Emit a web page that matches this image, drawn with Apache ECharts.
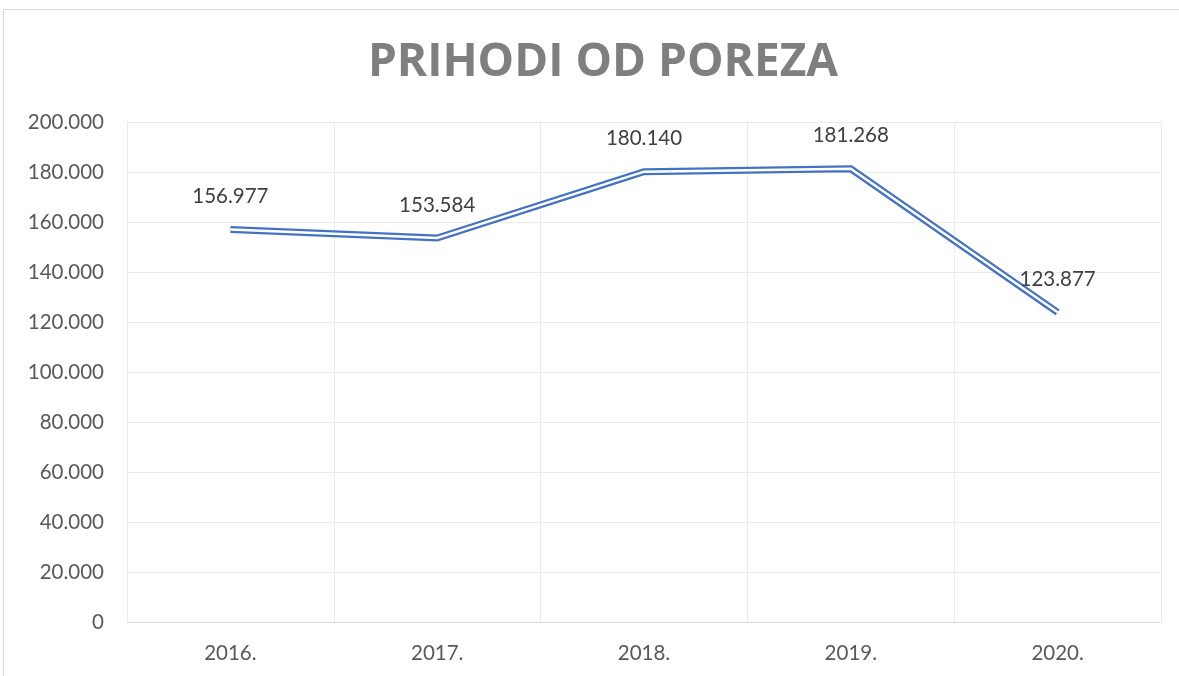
<!DOCTYPE html>
<html>
<head>
<meta charset="utf-8">
<script src="https://cdn.jsdelivr.net/npm/echarts@6/dist/echarts.min.js"></script>
<style>
  html, body { margin: 0; padding: 0; background: #fff; }
  #chart { width: 1179px; height: 676px; }
</style>
</head>
<body>
<div id="chart"></div>
<script>
const years = ["2016.", "2017.", "2018.", "2019.", "2020."];
const revenue = [156977, 153584, 180140, 181268, 123877];

const fmt = (v) => String(v).replace(/\B(?=(\d{3})+(?!\d))/g, ".");

const chart = echarts.init(document.getElementById("chart"));

const option = {
  backgroundColor: "#fff",
  animation: false,
  graphic: [
    {
      type: "rect",
      shape: { x: 3.5, y: 9.5, width: 1200, height: 700 },
      style: { fill: "none", stroke: "#d9d9d9", lineWidth: 1 },
      silent: true,
    },
  ],
  title: {
    text: "PRIHODI OD POREZA",
    top: 35,
    left: 598,
    textAlign: "center",
    textStyle: {
      fontFamily: "Open Sans",
      fontWeight: "bold",
      fontSize: 46,
      color: "#7f7f7f",
    },
  },
  grid: { left: 127, right: 18, top: 122, bottom: 54 },
  xAxis: {
    type: "category",
    data: years,
    boundaryGap: true,
    axisLine: { lineStyle: { color: "#d9d9d9" } },
    axisTick: { show: false },
    axisLabel: {
      color: "#595959",
      fontFamily: "Lato",
      fontSize: 20.5,
      margin: 21,
    },
    splitLine: { show: true, lineStyle: { color: "#ebebeb" } },
  },
  yAxis: {
    type: "value",
    min: 0,
    max: 200000,
    interval: 20000,
    axisLine: { show: false },
    axisTick: { show: false },
    axisLabel: {
      color: "#595959",
      fontFamily: "Lato",
      fontSize: 20.5,
      margin: 23,
      formatter: (v) => fmt(v),
    },
    splitLine: { lineStyle: { color: "#ebebeb" } },
  },
  series: [
    {
      type: "line",
      data: revenue,
      symbol: "circle",
      symbolSize: 1,
      showSymbol: true,
      itemStyle: { color: "rgba(0,0,0,0)" },
      lineStyle: { color: "#4472c4", width: 7, join: "miter" },
      label: {
        show: true,
        position: "top",
        distance: 22,
        color: "#404040",
        fontFamily: "Lato",
        fontSize: 20.5,
        formatter: (p) => fmt(p.value),
      },
      labelLayout: { hideOverlap: false },
      z: 2,
    },
    {
      type: "line",
      data: revenue,
      symbol: "none",
      lineStyle: { color: "#ffffff", width: 2.5, join: "miter" },
      label: { show: false },
      z: 3,
    },
  ],
};

chart.setOption(option);
</script>
</body>
</html>
